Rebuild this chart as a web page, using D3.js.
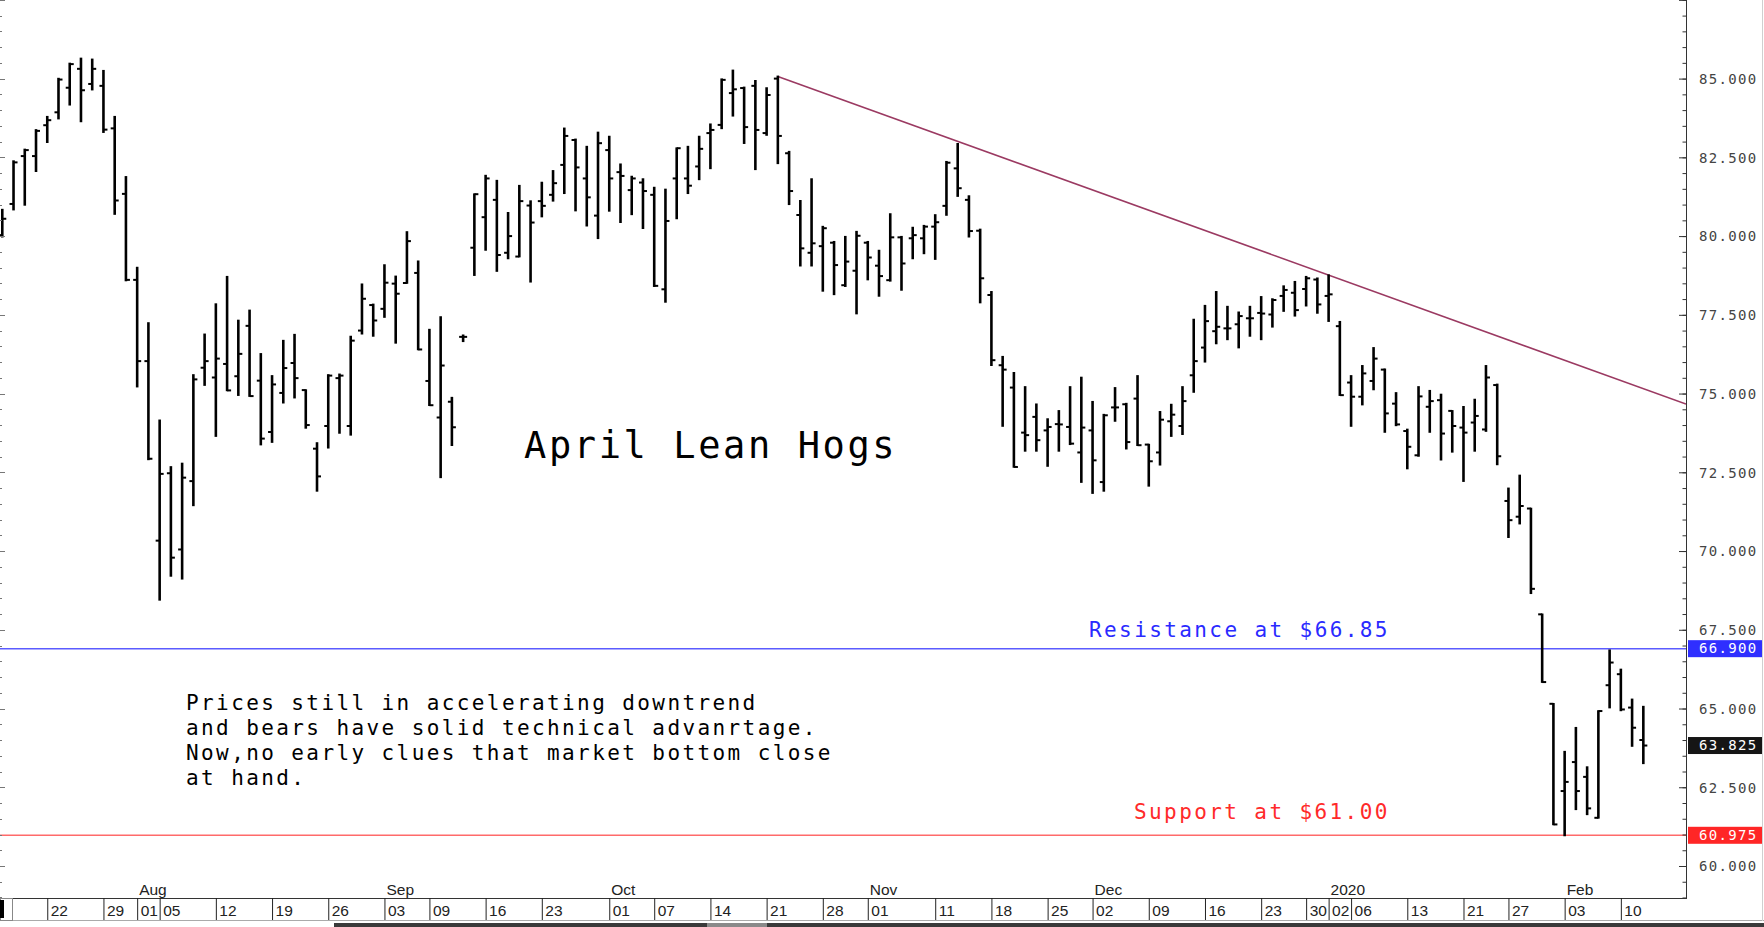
<!DOCTYPE html>
<html><head><meta charset="utf-8">
<script src="https://cdn.jsdelivr.net/npm/d3@7"></script>
<style>
html,body{margin:0;padding:0;background:#fff;}
svg{display:block;}
</style></head><body>
<svg id="chart" width="1764" height="927"></svg>
<script>
// ---------------- DATA ----------------
const dates = [
"2019-07-16","2019-07-17","2019-07-18","2019-07-19",
"2019-07-22","2019-07-23","2019-07-24","2019-07-25","2019-07-26",
"2019-07-29","2019-07-30","2019-07-31","2019-08-01","2019-08-02",
"2019-08-05","2019-08-06","2019-08-07","2019-08-08","2019-08-09",
"2019-08-12","2019-08-13","2019-08-14","2019-08-15","2019-08-16",
"2019-08-19","2019-08-20","2019-08-21","2019-08-22","2019-08-23",
"2019-08-26","2019-08-27","2019-08-28","2019-08-29","2019-08-30",
"2019-09-03","2019-09-04","2019-09-05","2019-09-06",
"2019-09-09","2019-09-10","2019-09-11","2019-09-12","2019-09-13",
"2019-09-16","2019-09-17","2019-09-18","2019-09-19","2019-09-20",
"2019-09-23","2019-09-24","2019-09-25","2019-09-26","2019-09-27",
"2019-09-30","2019-10-01","2019-10-02","2019-10-03","2019-10-04",
"2019-10-07","2019-10-08","2019-10-09","2019-10-10","2019-10-11",
"2019-10-14","2019-10-15","2019-10-16","2019-10-17","2019-10-18",
"2019-10-21","2019-10-22","2019-10-23","2019-10-24","2019-10-25",
"2019-10-28","2019-10-29","2019-10-30","2019-10-31","2019-11-01",
"2019-11-04","2019-11-05","2019-11-06","2019-11-07","2019-11-08",
"2019-11-11","2019-11-12","2019-11-13","2019-11-14","2019-11-15",
"2019-11-18","2019-11-19","2019-11-20","2019-11-21","2019-11-22",
"2019-11-25","2019-11-26","2019-11-27","2019-11-29",
"2019-12-02","2019-12-03","2019-12-04","2019-12-05","2019-12-06",
"2019-12-09","2019-12-10","2019-12-11","2019-12-12","2019-12-13",
"2019-12-16","2019-12-17","2019-12-18","2019-12-19","2019-12-20",
"2019-12-23","2019-12-24","2019-12-26","2019-12-27",
"2019-12-30","2019-12-31","2020-01-02","2020-01-03",
"2020-01-06","2020-01-07","2020-01-08","2020-01-09","2020-01-10",
"2020-01-13","2020-01-14","2020-01-15","2020-01-16","2020-01-17",
"2020-01-21","2020-01-22","2020-01-23","2020-01-24",
"2020-01-27","2020-01-28","2020-01-29","2020-01-30","2020-01-31",
"2020-02-03","2020-02-04","2020-02-05","2020-02-06","2020-02-07",
"2020-02-10","2020-02-11","2020-02-12"
];
const openP = [
80.03,81.02,82.54,82.54,
83.52,83.93,84.71,85.31,84.83,
84.77,83.42,81.34,78.61,76.03,
70.33,72.47,70.05,72.22,75.82,
75.51,75.94,75.55,77.15,75.41,
73.78,75.02,75.97,75.11,73.25,
73.97,75.49,73.97,77.00,77.81,
77.69,78.49,78.51,78.83,
75.40,74.24,74.74,76.80,79.63,
80.60,81.15,79.47,79.35,80.97,
81.11,81.31,82.26,83.05,81.83,
80.65,82.73,82.03,81.46,81.70,
81.31,78.31,81.83,81.83,82.21,
83.27,83.53,84.54,84.70,84.77,
83.27,85.00,82.63,80.67,79.47,
79.68,79.79,78.44,78.90,79.79,
79.06,78.60,79.96,79.93,79.93,
80.30,80.96,82.15,81.15,80.17,
78.13,75.90,75.19,73.76,74.26,
73.83,74.03,73.94,73.13,
73.83,72.19,74.56,74.66,74.84,
73.38,73.13,74.12,73.97,75.58,
76.46,76.98,77.07,77.20,77.39,
77.56,77.51,78.10,78.20,
78.32,78.62,78.10,77.14,
75.35,74.90,75.40,75.76,74.68,
73.81,73.04,74.58,74.79,74.45,
73.92,74.08,73.86,75.27,
71.59,71.09,71.35,67.99,65.15,
62.38,63.30,62.83,61.53,65.74,
66.09,65.03,64.00
];
const highP = [
80.84,82.38,82.75,83.37,
83.79,85.00,85.48,85.64,85.61,
85.25,83.79,81.88,79.00,77.24,
74.15,72.67,72.78,75.59,76.88,
77.84,78.71,77.32,77.64,76.26,
75.56,76.68,76.87,75.11,73.43,
75.59,75.61,76.81,78.47,77.83,
79.08,78.72,80.13,79.20,
77.03,77.43,74.87,76.85,81.33,
81.92,81.76,80.74,81.60,81.11,
81.70,82.07,83.42,83.07,82.84,
83.29,83.16,82.28,81.89,81.81,
81.54,81.48,82.79,82.84,83.16,
83.55,84.98,85.26,84.72,84.93,
84.70,85.07,82.68,81.12,81.81,
80.30,79.82,79.98,80.14,79.82,
79.54,80.70,79.98,80.27,80.33,
80.67,82.36,82.93,81.27,80.21,
78.23,76.17,75.66,75.21,74.66,
74.19,74.45,75.21,75.51,
74.74,74.33,75.18,74.68,75.56,
73.38,74.42,74.65,75.21,77.35,
77.79,78.23,77.76,77.58,77.76,
78.07,78.00,78.41,78.55,
78.71,78.66,78.76,77.28,
75.56,75.88,76.45,75.77,75.02,
73.86,75.21,75.09,74.97,74.45,
74.58,74.81,75.88,75.29,
71.99,72.40,71.35,67.99,65.15,
63.63,64.39,63.14,64.92,66.85,
66.24,65.29,65.06
];
const lowP = [
79.98,80.84,80.99,82.06,
82.98,83.73,84.17,83.64,84.65,
83.30,80.70,78.59,75.22,72.91,
68.45,69.21,69.12,71.45,75.27,
73.65,75.10,74.95,74.92,73.38,
73.46,74.71,74.87,73.91,71.91,
73.28,73.75,73.69,76.90,76.83,
77.43,76.61,78.51,76.40,
74.63,72.34,73.36,76.66,78.76,
79.56,78.89,79.29,79.35,78.55,
80.62,81.12,81.36,80.81,80.33,
79.93,80.80,80.44,80.69,80.25,
78.41,77.91,80.56,81.36,81.80,
82.15,83.42,83.82,82.95,82.12,
83.21,82.31,81.01,79.06,79.06,
78.26,78.15,78.41,77.54,78.62,
78.10,78.58,78.29,79.29,79.45,
79.27,80.67,81.27,79.98,77.89,
75.90,73.97,72.67,73.18,73.18,
72.70,73.18,73.39,72.19,
71.84,71.91,74.13,73.25,73.36,
72.07,72.74,73.65,73.71,75.05,
76.01,76.59,76.72,76.46,76.83,
76.72,77.12,77.62,77.47,
77.79,77.56,77.30,74.95,
73.97,74.65,75.13,73.78,73.99,
72.62,73.02,73.78,72.90,73.15,
72.22,73.18,73.81,72.75,
70.44,70.87,68.66,65.84,61.32,
60.97,61.80,61.64,61.53,65.03,
64.94,63.81,63.26
];
const closeP = [
80.55,82.34,82.73,83.34,
83.68,84.97,85.46,84.63,85.31,
83.38,81.13,78.61,76.03,72.93,
72.45,69.79,72.33,75.45,76.03,
76.11,75.10,76.26,74.92,73.57,
75.29,75.81,75.49,74.00,72.37,
75.57,75.57,76.68,78.01,77.32,
78.52,78.17,79.84,76.40,
74.63,75.89,73.93,76.80,81.33,
81.83,79.40,80.00,81.11,80.43,
80.96,81.68,83.18,82.18,81.23,
82.95,81.83,81.91,81.83,81.43,
78.42,80.48,82.79,81.60,82.77,
83.37,84.96,84.66,83.46,83.37,
84.48,83.18,81.43,79.61,79.77,
80.25,79.08,79.19,80.01,79.32,
78.73,79.96,79.13,80.03,80.30,
80.44,82.33,81.52,80.16,78.66,
76.06,75.76,72.67,73.68,73.52,
73.94,74.02,73.41,73.92,
72.88,74.31,74.56,73.46,73.36,
72.85,74.17,74.33,74.76,76.03,
77.30,77.12,77.07,77.46,77.39,
77.54,77.97,78.29,77.65,
78.66,77.83,78.15,74.95,
74.90,75.64,76.11,74.37,74.02,
73.31,74.91,74.76,73.73,73.97,
73.76,74.29,75.51,73.01,
70.98,71.43,68.80,65.84,61.32,
62.67,62.38,61.83,64.92,66.46,
64.97,64.39,63.825
];
const priceTicks = [60,62.5,65,67.5,70,72.5,75,77.5,80,82.5,85];
const dateTicks = ["2019-07-22","2019-07-29","2019-08-01","2019-08-05","2019-08-12","2019-08-19","2019-08-26",
"2019-09-03","2019-09-09","2019-09-16","2019-09-23","2019-10-01","2019-10-07","2019-10-14","2019-10-21",
"2019-10-28","2019-11-01","2019-11-11","2019-11-18","2019-11-25","2019-12-02","2019-12-09","2019-12-16",
"2019-12-23","2019-12-30","2020-01-02","2020-01-06","2020-01-13","2020-01-21","2020-01-27","2020-02-03","2020-02-10"];
const dateTickLabels = ["22","29","01","05","12","19","26","03","09","16","23","01","07","14","21",
"28","01","11","18","25","02","09","16","23","30","02","06","13","21","27","03","10"];
const monthTicks = ["2019-08-01","2019-09-03","2019-10-01","2019-11-01","2019-12-02","2020-01-02","2020-02-03"];
const monthLabels = ["Aug","Sep","Oct","Nov","Dec","2020","Feb"];
const resistanceLevel = 66.9;
const supportLevel = 60.975;
const lastPrice = 63.825;
const trendDates = ["2019-10-22","2020-01-02"];
const trendPrices = [85.07,78.76];
const titleText = "April Lean Hogs";
const resistanceText = "Resistance at $66.85";
const supportText = "Support at $61.00";
const noteLines = ["Prices still in accelerating downtrend",
"and bears have solid technical advanrtage.",
"Now,no early clues that market bottom close",
"at hand."];

// ---------------- LAYOUT ----------------
const W = 1764, H = 927;
const plotRight = 1686, plotBottom = 898;
const svg = d3.select("#chart");
const mono = "'DejaVu Sans Mono', monospace";
const sans = "'Liberation Sans', Arial, sans-serif";

const x = d3.scalePoint().domain(dates).range([2.29, 1643.33]);
const y = d3.scaleLinear().domain([60, 85]).range([866, 78.6]);

svg.append("rect").attr("width", W).attr("height", H).attr("fill", "#fff");

const defs = svg.append("defs");
defs.append("clipPath").attr("id", "plotclip")
  .append("rect").attr("x", 0).attr("y", 0).attr("width", plotRight).attr("height", plotBottom);

const plot = svg.append("g").attr("clip-path", "url(#plotclip)");

// horizontal levels
plot.append("line").attr("x1", 0).attr("x2", plotRight)
  .attr("y1", y(resistanceLevel)).attr("y2", y(resistanceLevel))
  .attr("stroke", "#5b5bff").attr("stroke-width", 1.5);
plot.append("line").attr("x1", 0).attr("x2", plotRight)
  .attr("y1", y(supportLevel)).attr("y2", y(supportLevel))
  .attr("stroke", "#ff6a6a").attr("stroke-width", 1.5);

// trend line extended to the right edge
{
  const x1 = x(trendDates[0]), y1 = y(trendPrices[0]);
  const x2 = x(trendDates[1]), y2 = y(trendPrices[1]);
  const slope = (y2 - y1) / (x2 - x1);
  plot.append("line").attr("x1", x1).attr("y1", y1)
    .attr("x2", plotRight).attr("y2", y1 + slope * (plotRight - x1))
    .attr("stroke", "#9b3a62").attr("stroke-width", 1.6);
}

// OHLC bars
const bars = plot.append("g").selectAll("g").data(dates.map((d, i) => i)).join("g");
bars.append("line")
  .attr("x1", i => x(dates[i])).attr("x2", i => x(dates[i]))
  .attr("y1", i => y(highP[i]) - 0.8).attr("y2", i => y(lowP[i]) + 0.8)
  .attr("stroke", "#000").attr("stroke-width", 2.6);
bars.append("line")
  .attr("x1", i => x(dates[i]) - 4).attr("x2", i => x(dates[i]))
  .attr("y1", i => y(openP[i])).attr("y2", i => y(openP[i]))
  .attr("stroke", "#000").attr("stroke-width", 2);
bars.append("line")
  .attr("x1", i => x(dates[i])).attr("x2", i => x(dates[i]) + 4)
  .attr("y1", i => y(closeP[i])).attr("y2", i => y(closeP[i]))
  .attr("stroke", "#000").attr("stroke-width", 2);

// texts
svg.append("text").attr("x", 524).attr("y", 458)
  .attr("font-family", mono).attr("font-size", 37).attr("letter-spacing", 2.6)
  .attr("fill", "#000").text(titleText);
svg.append("text").attr("x", 1089).attr("y", 637)
  .attr("font-family", mono).attr("font-size", 21).attr("letter-spacing", 2.4)
  .attr("fill", "#2a2aff").text(resistanceText);
svg.append("text").attr("x", 1134).attr("y", 819)
  .attr("font-family", mono).attr("font-size", 21).attr("letter-spacing", 2.4)
  .attr("fill", "#ff2a2a").text(supportText);
svg.append("g").selectAll("text").data(noteLines).join("text")
  .attr("x", 186).attr("y", (d, i) => 710 + i * 25)
  .attr("font-family", mono).attr("font-size", 21).attr("letter-spacing", 2.4)
  .attr("fill", "#000").text(d => d);

// left edge ticks
const minorVals = d3.range(59, 87.51, 0.5);
svg.append("g").selectAll("line").data(minorVals).join("line")
  .attr("x1", 0).attr("x2", d => (d % 2.5 === 0) ? 5 : 2)
  .attr("y1", d => Math.round(y(d)) + 0.5).attr("y2", d => Math.round(y(d)) + 0.5)
  .attr("stroke", "#777").attr("stroke-width", 1);

// right axis
const gR = svg.append("g").attr("transform", `translate(${plotRight},0)`);
gR.call(d3.axisRight(y).tickValues(minorVals).tickSizeInner(-3.5).tickSizeOuter(0).tickFormat(""));
gR.call(g => g.select(".domain").remove());
const gR2 = svg.append("g").attr("transform", `translate(${plotRight},0)`);
gR2.call(d3.axisRight(y).tickValues(priceTicks.concat([87.5])).tickSizeInner(-7).tickSizeOuter(0)
  .tickPadding(13).tickFormat(d => d > 86 ? "" : d3.format(".3f")(d)));
gR2.select(".domain").remove();
svg.selectAll(".tick line").attr("stroke", "#333");
gR2.selectAll("text").attr("font-family", mono).attr("font-size", 14)
  .attr("letter-spacing", 1.3).attr("fill", "#444").attr("dy", "0.34em");
svg.append("line").attr("x1", plotRight + 0.5).attr("x2", plotRight + 0.5)
  .attr("y1", 0).attr("y2", plotBottom).attr("stroke", "#333").attr("stroke-width", 1);

// price tags
const tags = [
  {v: resistanceLevel, c: "#2f2fff"},
  {v: lastPrice, c: "#151515"},
  {v: supportLevel, c: "#ff2626"}
];
const gT = svg.append("g").selectAll("g").data(tags).join("g");
gT.append("rect").attr("x", plotRight + 2).attr("width", 74)
  .attr("y", d => y(d.v) - 8.5).attr("height", 17).attr("fill", d => d.c);
gT.append("text").attr("x", plotRight + 13).attr("y", d => y(d.v)).attr("dy", "0.34em")
  .attr("font-family", mono).attr("font-size", 14).attr("letter-spacing", 1.3)
  .attr("fill", "#fff").text(d => d3.format(".3f")(d.v));

// bottom axis frame
svg.append("line").attr("x1", 0).attr("x2", plotRight + 1)
  .attr("y1", plotBottom + 0.5).attr("y2", plotBottom + 0.5).attr("stroke", "#333");
const gB = svg.append("g").attr("transform", `translate(0,${plotBottom})`);
gB.call(d3.axisBottom(x).tickValues(dateTicks).tickSizeInner(22).tickSizeOuter(0)
  .tickFormat((d, i) => dateTickLabels[i]));
gB.select(".domain").remove();
gB.selectAll(".tick line").attr("stroke", "#222");
gB.selectAll("text").attr("x", 3).attr("y", 18).attr("dy", 0).attr("text-anchor", "start")
  .attr("font-family", sans).attr("font-size", 15.5).attr("fill", "#222");

svg.append("g").selectAll("text").data(monthTicks).join("text")
  .attr("x", d => x(d) + 2).attr("y", 895)
  .attr("font-family", sans).attr("font-size", 15.5).attr("fill", "#222")
  .text((d, i) => monthLabels[i]);

// strip borders and decorations
svg.append("line").attr("x1", 0).attr("x2", W).attr("y1", 920.5).attr("y2", 920.5)
  .attr("stroke", "#aaa");
svg.append("rect").attr("x", 0.5).attr("y", 898.5).attr("width", 12).attr("height", 22)
  .attr("fill", "none").attr("stroke", "#888");
svg.append("rect").attr("x", 0).attr("y", 900).attr("width", 4).attr("height", 18).attr("fill", "#000");
svg.append("rect").attr("x", 334).attr("y", 923).attr("width", W - 334).attr("height", 4).attr("fill", "#3a3a3a");
svg.append("rect").attr("x", 707).attr("y", 923).attr("width", 60).attr("height", 4).attr("fill", "#8a8a8a");
svg.append("line").attr("x1", 1762.5).attr("x2", 1762.5).attr("y1", 0).attr("y2", 921)
  .attr("stroke", "#d0d0d0");
</script>
</body></html>
